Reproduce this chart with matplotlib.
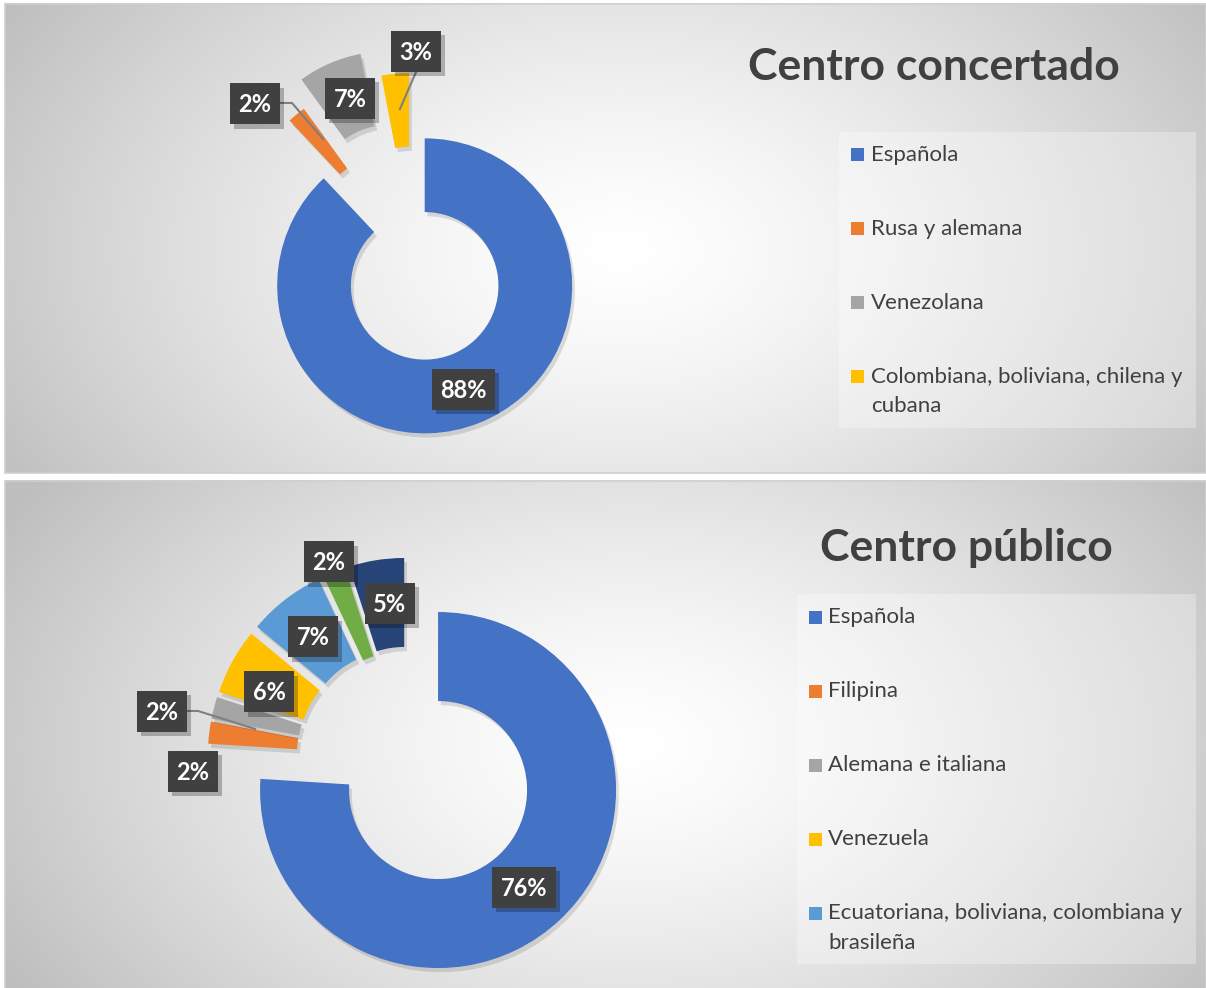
import textwrap
import numpy as np
import matplotlib
matplotlib.use("Agg")
import matplotlib.pyplot as plt
from matplotlib.patches import Rectangle
import matplotlib.patheffects as pe

# ---------------- data ----------------
top_title = "Centro concertado"
top_categories = ["Española", "Rusa y alemana", "Venezolana",
                  "Colombiana, boliviana, chilena y cubana"]
top_values = [88, 2, 7, 3]
top_colors = ["#4472C4", "#ED7D31", "#A5A5A5", "#FFC000"]

bot_title = "Centro público"
bot_categories = ["Española", "Filipina", "Alemana e italiana", "Venezuela",
                  "Ecuatoriana, boliviana, colombiana y brasileña",
                  "Otra", "Otras"]
bot_values = [76, 2, 2, 6, 7, 2, 5]
bot_colors = ["#4472C4", "#ED7D31", "#A5A5A5", "#FFC000", "#5B9BD5",
              "#70AD47", "#264478"]
bot_legend_count = 5  # entries visible in the (clipped) legend

# ---------------- layout (pixels) ----------------
W, H = 1206, 988
def Y(y):
    return H - y

fig = plt.figure(figsize=(W / 100, H / 100), dpi=100)
fig.patch.set_facecolor("white")
ax = fig.add_axes([0, 0, 1, 1])
ax.set_xlim(0, W)
ax.set_ylim(0, H)
ax.axis("off")

TXT = "#404040"
FONT = "Lato"
LABEL_FS = 17
label_texts = []


def panel(x0, y0, x1, y1, gcx, gcy):
    nx, ny = 300, 130
    xs = np.linspace(x0, x1, nx)
    ys = np.linspace(y0, y1, ny)
    X, Yg = np.meshgrid(xs, ys)
    d = np.sqrt(((X - gcx) / 650.0) ** 2 + ((Yg - gcy) / 420.0) ** 2)
    v = 1 - 0.22 * np.clip(d, 0, 1.1) ** 1.4
    img = np.dstack([v, v, v])
    ax.imshow(img, extent=(x0, x1, Y(y1), Y(y0)), origin="upper",
              aspect="auto", interpolation="bilinear", zorder=0)
    ax.add_patch(Rectangle((x0, Y(y1)), x1 - x0, y1 - y0, fill=False,
                           edgecolor="#d0d0d0", linewidth=1.2, zorder=1))


def donut(values, colors, cx, cy, R, explode_frac):
    wedges, _ = ax.pie(values, colors=colors, startangle=90,
                       counterclock=False, radius=R, center=(cx, Y(cy)),
                       explode=[e * R for e in explode_frac], frame=True,
                       wedgeprops=dict(width=R * 0.5, linewidth=0))
    for w in wedges:
        w.set_zorder(3)
        w.set_path_effects([pe.SimplePatchShadow(offset=(2, -3), alpha=0.12,
                                                 shadow_rgbFace="black"),
                            pe.Normal()])
    return wedges


def label(text, cx, cy, R, rel):
    x = cx + rel[0] * R
    y = Y(cy) + rel[1] * R
    cap = 0.72 * LABEL_FS * 100 / 72
    t = ax.text(x, y - cap / 2, text, ha="center", va="baseline", color="white",
                fontsize=LABEL_FS, fontweight="bold", family=FONT, zorder=7)
    label_texts.append((t, x, y))


def leader(cx, cy, R, pts):
    xs = [cx + p[0] * R for p in pts]
    ys = [Y(cy) + p[1] * R for p in pts]
    ax.plot(xs, ys, color="#7f7f7f", linewidth=1.5, zorder=5)


def legend(cats, colors, bx0, by0, bx1, by1, sq_x, txt_x, ys):
    ax.add_patch(Rectangle((bx0, Y(by1)), bx1 - bx0, by1 - by0,
                           facecolor="white", alpha=0.3, linewidth=0, zorder=2))
    for cat, col, yy in zip(cats, colors, ys):
        lines = textwrap.wrap(cat, 36)
        ax.add_patch(Rectangle((sq_x, Y(yy) - 6.5), 13, 13, facecolor=col,
                               linewidth=0, zorder=4))
        for i, ln in enumerate(lines):
            ax.text(txt_x, Y(yy + i * 29.5), ln, ha="left", va="center",
                    fontsize=16, color=TXT, family=FONT, zorder=4)


# ---------------- top panel ----------------
panel(5, 4, W, 473, 620, 250)
tcx, tcy, tR = 412.2, 254.3, 147.5
donut(top_values, top_colors, tcx, tcy, tR, [0.23, 0.23, 0.41, 0.23])
top_label_pos = [(0.348, -0.917), (-1.066, 1.019), (-0.422, 1.056), (0.026, 1.378)]
for v, p in zip(top_values, top_label_pos):
    label(f"{v}%", tcx, tcy, tR, p)
leader(tcx, tcy, tR, [(-0.896, 1.026), (-0.815, 1.026), (-0.605, 0.782)])
leader(tcx, tcy, tR, [(0.026, 1.236), (-0.083, 0.985)])
ax.text(934, Y(67), top_title, ha="center", va="center", fontsize=32,
        fontweight="bold", color=TXT, family=FONT, zorder=4)
legend(top_categories, top_colors, 839, 132, 1196, 428, 851, 871,
       [155, 229, 303, 377])

# ---------------- bottom panel ----------------
panel(5, 481, W, 1000, 630, 745)
bcx, bcy, bR = 407.6, 757.6, 178
donut(bot_values, bot_colors, bcx, bcy, bR,
      [0.25, 0.123, 0.123, 0.123, 0.123, 0.10, 0.123])
bot_label_pos = [(0.654, -0.730), (-1.206, -0.078), (-1.380, 0.259),
                 (-0.779, 0.369), (-0.531, 0.678), (-0.444, 1.099),
                 (-0.099, 0.866)]
for v, p in zip(bot_values, bot_label_pos):
    label(f"{v}%", bcx, bcy, bR, p)
leader(bcx, bcy, bR, [(-1.239, 0.262), (-1.178, 0.262), (-0.857, 0.161)])
ax.text(966, Y(548), bot_title, ha="center", va="center", fontsize=32,
        fontweight="bold", color=TXT, family=FONT, zorder=4)
legend(bot_categories[:bot_legend_count], bot_colors[:bot_legend_count],
       797, 594, 1196, 964, 809, 828, [617, 691, 765, 839, 913])

ax.set_xlim(0, W)
ax.set_ylim(0, H)
ax.set_aspect("equal", adjustable="box")
ax.set_position([0, 0, 1, 1])

# label boxes sized from the rendered text
fig.canvas.draw()
renderer = fig.canvas.get_renderer()
inv = ax.transData.inverted()
for t, x, y in label_texts:
    bb = t.get_window_extent(renderer)
    (x0, _), (x1, _) = inv.transform([(bb.x0, bb.y0), (bb.x1, bb.y1)])
    w = (x1 - x0) + 17
    h = 41
    box = Rectangle((x - w / 2, y - h / 2), w, h, facecolor="#404040",
                    linewidth=0, zorder=6)
    box.set_path_effects([pe.SimplePatchShadow(offset=(3, -3), alpha=0.25,
                                               shadow_rgbFace="black"),
                          pe.Normal()])
    ax.add_patch(box)

fig.savefig("out.png", dpi=100, facecolor="white")
